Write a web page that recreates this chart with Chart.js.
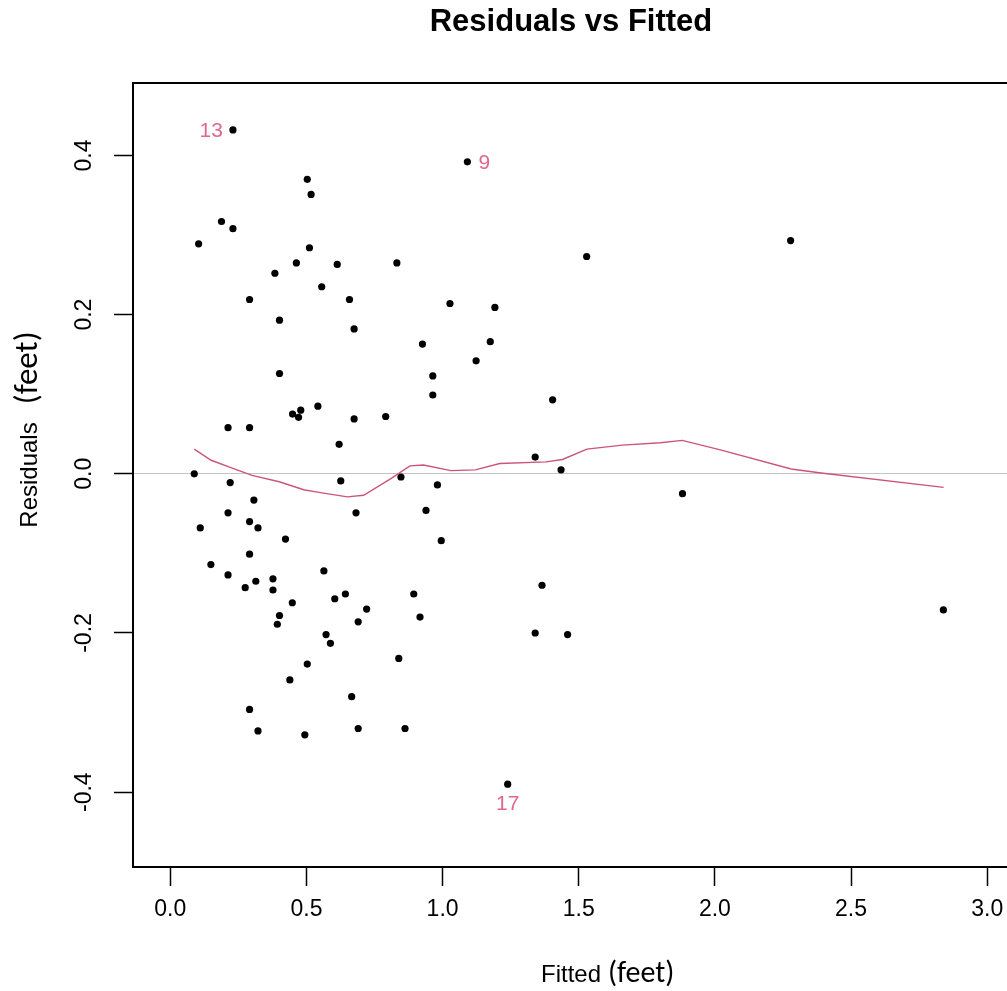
<!DOCTYPE html>
<html>
<head>
<meta charset="utf-8">
<title>Residuals vs Fitted</title>
<script src="https://cdn.jsdelivr.net/npm/chart.js@4.4.1/dist/chart.umd.min.js"></script>
<style>
  html, body { margin: 0; padding: 0; overflow: hidden; background: #fff; }
  #wrap { width: 1020px; height: 991px; }
</style>
</head>
<body>
<div id="wrap"><canvas id="resid-chart" width="1020" height="991"></canvas></div>
<script>
// Fitted values and residuals (feet)
const fitted = [
  0.230, 0.503, 0.517, 0.188, 0.230, 0.104, 0.511, 0.463, 0.613, 0.832,
  0.384, 0.556, 0.291, 0.658, 0.401, 0.675, 0.926, 0.401, 0.964, 0.964,
  0.542, 0.449, 0.471, 0.479, 0.675, 0.791, 0.212, 0.291, 0.620, 0.088,
  0.220, 0.626, 0.847, 0.307, 0.212, 0.682, 0.939, 0.291, 0.110, 0.322,
  0.423, 0.291, 0.149, 0.564, 0.212, 0.377, 0.314, 0.275, 0.377, 0.643,
  0.894, 0.604, 0.448, 0.721, 0.401, 0.917, 0.690, 0.393, 0.572, 0.588,
  0.839, 0.503, 0.439, 0.666, 0.291, 0.322, 0.690, 0.862, 0.494, 1.091,
  1.529, 1.027, 1.192, 1.175, 1.123, 1.404, 1.340, 1.435, 1.881, 0.981,
  0.995, 1.365, 1.340, 1.459, 1.239, 2.278, 2.839
];
const residuals = [
  0.432, 0.370, 0.351, 0.317, 0.308, 0.289, 0.284, 0.265, 0.263, 0.265,
  0.252, 0.235, 0.219, 0.219, 0.193, 0.182, 0.163, 0.126, 0.123, 0.099,
  0.085, 0.075, 0.071, 0.080, 0.069, 0.072, 0.058, 0.058, 0.037, 0.000,
  -0.011, -0.009, -0.004, -0.033, -0.049, -0.049, -0.046, -0.060, -0.068, -0.068,
  -0.082, -0.101, -0.114, -0.122, -0.127, -0.132, -0.135, -0.143, -0.146, -0.151,
  -0.151, -0.157, -0.162, -0.170, -0.178, -0.180, -0.186, -0.189, -0.202, -0.213,
  -0.232, -0.239, -0.259, -0.280, -0.296, -0.323, -0.320, -0.320, -0.328, 0.392,
  0.273, 0.214, 0.209, 0.166, 0.142, 0.093, 0.021, 0.005, -0.025, -0.014,
  -0.084, -0.140, -0.200, -0.202, -0.390, 0.293, -0.171
];

// Smoothed (lowess) curve
const lowessX = [0.088, 0.15, 0.22, 0.30, 0.40, 0.49, 0.54, 0.65, 0.71, 0.81, 0.88, 0.93,
  1.03, 1.12, 1.21, 1.38, 1.44, 1.53, 1.66, 1.80, 1.88, 2.02, 2.28, 2.39, 2.84];
const lowessY = [0.031, 0.017, 0.008, -0.002, -0.010, -0.020, -0.023, -0.029, -0.027, -0.006, 0.010, 0.011,
  0.004, 0.005, 0.013, 0.015, 0.018, 0.031, 0.036, 0.039, 0.042, 0.030, 0.006, 0.001, -0.017];

// Observations flagged with their number
const flagNames = ['13', '9', '17'];
const flagIndex = [0, 69, 84];

const xTicks = [0, 0.5, 1, 1.5, 2, 2.5, 3];
const yTicks = [-0.4, -0.2, 0, 0.2, 0.4];

Chart.defaults.font.family = '"Liberation Sans", Arial, sans-serif';
Chart.defaults.color = '#000';

const PINK = '#DF536B';

// box, flagged ids, title and axis titles
const extras = {
  id: 'extras',
  afterDatasetsDraw(chart) {
    const { ctx, chartArea: a } = chart;
    ctx.save();
    ctx.strokeStyle = '#000';
    ctx.lineWidth = 2;
    ctx.strokeRect(a.left, a.top, a.right - a.left, a.bottom - a.top);

    const pts = chart.getDatasetMeta(1).data;
    ctx.fillStyle = '#E0688A';
    ctx.font = '21px "Liberation Sans", Arial, sans-serif';
    ctx.textBaseline = 'middle';
    flagIndex.forEach((idx, k) => {
      const p = pts[idx];
      const name = flagNames[k];
      if (name === '13') {
        ctx.textAlign = 'right';
        ctx.fillText(name, p.x - 10, p.y + 1);
      } else if (name === '9') {
        ctx.textAlign = 'left';
        ctx.fillText(name, p.x + 11, p.y + 1);
      } else {
        ctx.textAlign = 'center';
        ctx.fillText(name, p.x, p.y + 20);
      }
    });
    ctx.restore();
  },
  afterDraw(chart) {
    const { ctx, chartArea: a } = chart;
    const cx = (a.left + a.right) / 2;
    const cy = (a.top + a.bottom) / 2;
    const sans = '"Liberation Sans", Arial, sans-serif';
    const human = 'Carlito, Lato, "Open Sans", sans-serif';
    ctx.save();
    ctx.fillStyle = '#000';

    // main title
    ctx.font = 'bold 31px ' + sans;
    ctx.textAlign = 'center';
    ctx.textBaseline = 'alphabetic';
    ctx.fillText('Residuals vs Fitted', cx, 31);

    // x axis title
    ctx.font = '24px ' + sans;
    const w1 = ctx.measureText('Fitted').width;
    ctx.fillText('Fitted', cx, 982);
    ctx.font = '30px ' + human;
    ctx.textAlign = 'left';
    ctx.fillText('(feet)', cx + w1 / 2 + 7, 982);

    // y axis title
    ctx.translate(37, cy);
    ctx.rotate(-Math.PI / 2);
    ctx.font = '24px ' + sans;
    ctx.textAlign = 'center';
    const w2 = ctx.measureText('Residuals').width;
    ctx.fillText('Residuals', 0, 0);
    ctx.font = '33px ' + human;
    ctx.textAlign = 'left';
    ctx.fillText('(feet)', w2 / 2 + 18, 0);
    ctx.restore();
  }
};

const residChart = document.getElementById('resid-chart');
new Chart(residChart, {
  type: 'scatter',
  data: {
    datasets: [
      {
        type: 'line',
        label: 'lowess',
        data: lowessX.map((x, i) => ({ x: x, y: lowessY[i] })),
        borderColor: '#CC5577',
        borderWidth: 1.4,
        pointRadius: 0,
        tension: 0,
        fill: false
      },
      {
        label: 'Residuals',
        data: fitted.map((x, i) => ({ x: x, y: residuals[i] })),
        backgroundColor: '#000',
        borderWidth: 0,
        pointRadius: 3.6
      }
    ]
  },
  options: {
    responsive: false,
    animation: false,
    layout: { padding: { top: 83, right: 11, left: 0, bottom: 0 } },
    plugins: {
      legend: { display: false },
      tooltip: { enabled: false }
    },
    scales: {
      x: {
        type: 'linear',
        min: -0.137,
        max: 3.08,
        afterBuildTicks: s => { s.ticks = xTicks.map(v => ({ value: v })); },
        afterFit: s => { s.height = 124; },
        border: { display: false },
        grid: {
          drawOnChartArea: false,
          tickLength: 19,
          tickColor: '#000',
          tickWidth: 1.5
        },
        ticks: {
          padding: 10,
          font: { size: 23 },
          color: '#000',
          maxRotation: 0,
          callback: v => Number(v).toFixed(1)
        }
      },
      y: {
        type: 'linear',
        min: -0.494,
        max: 0.491,
        afterBuildTicks: s => { s.ticks = yTicks.map(v => ({ value: v })); },
        afterFit: s => { s.width = 133; },
        border: { display: false },
        grid: {
          color: c => (c.tick && c.tick.value === 0 ? '#C4C4C4' : 'rgba(0,0,0,0)'),
          lineWidth: 1,
          tickLength: 19,
          tickColor: '#000',
          tickWidth: 1.5
        },
        ticks: {
          padding: 10,
          font: { size: 23 },
          color: '#000',
          minRotation: 90,
          maxRotation: 90,
          crossAlign: 'center',
          callback: v => Number(v).toFixed(1)
        }
      }
    }
  },
  plugins: [extras]
});
</script>
</body>
</html>
